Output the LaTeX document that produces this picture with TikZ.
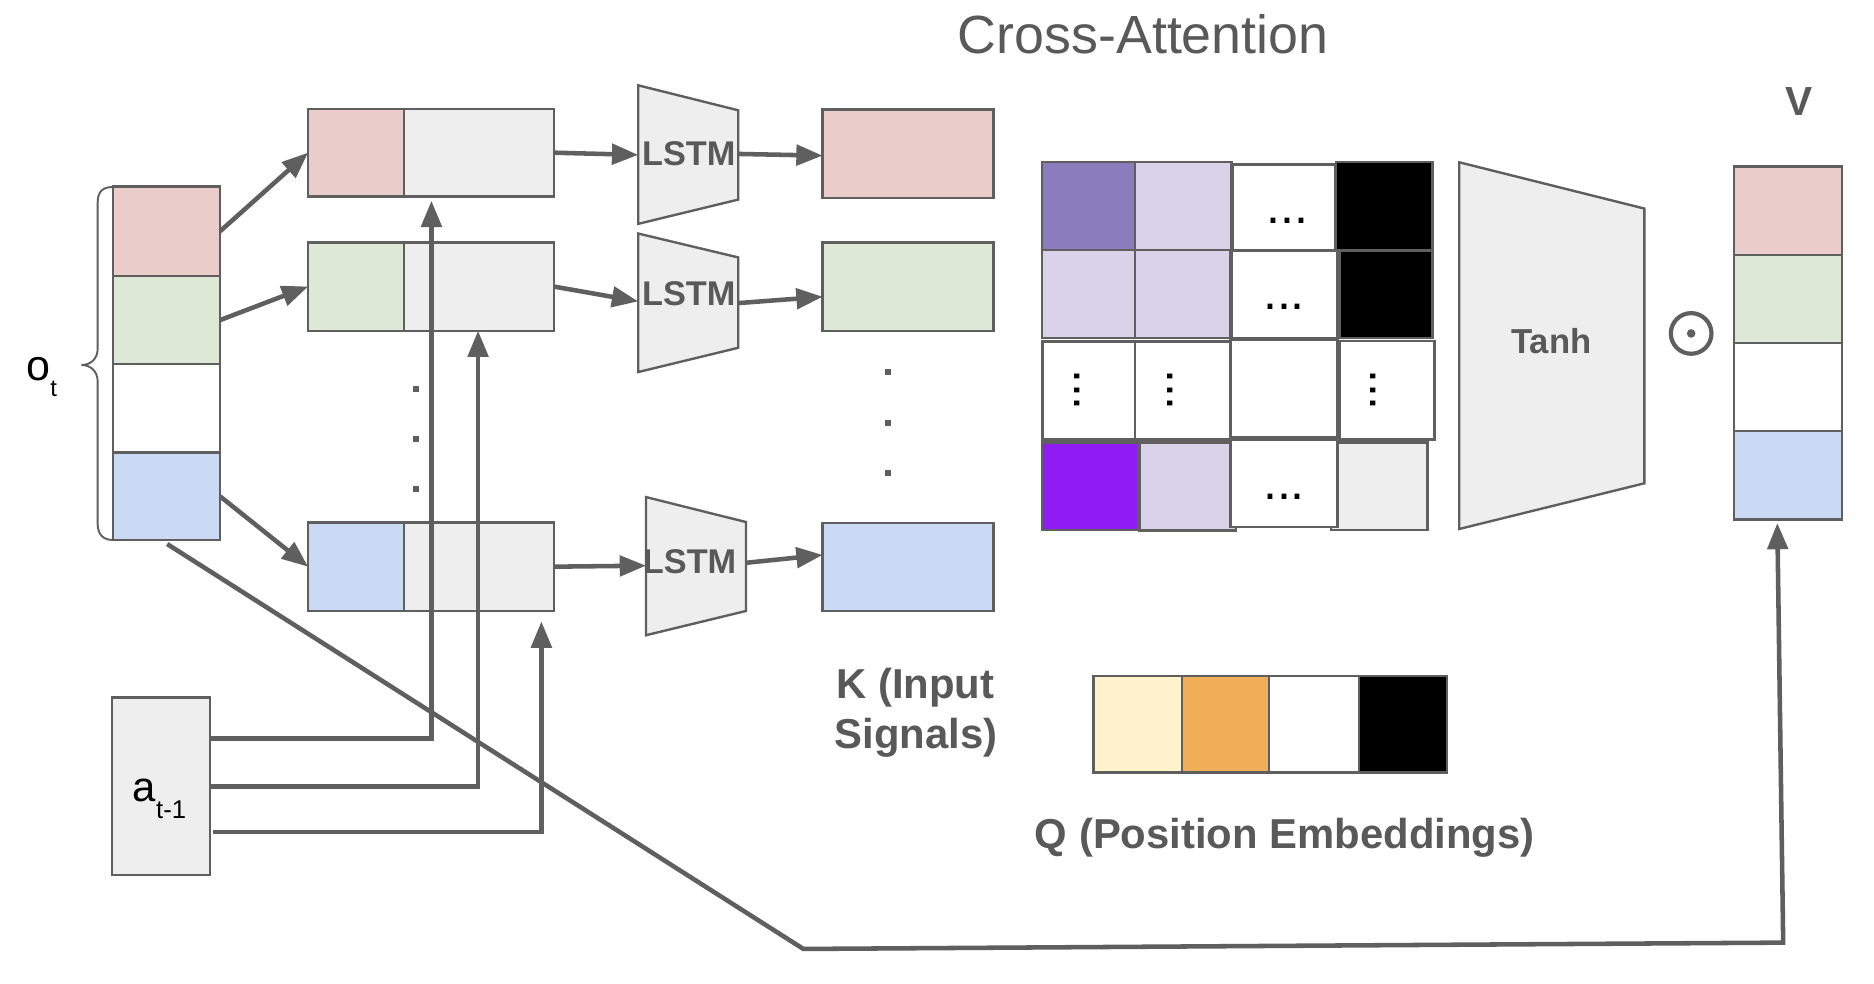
\documentclass[tikz,border=0pt]{standalone}
\usepackage{fontspec}
\setmainfont{Liberation Sans}
\usetikzlibrary{arrows.meta}
\definecolor{strokegray}{HTML}{5F5F5F}
\definecolor{txtgray}{HTML}{595959}
\definecolor{cpink}{HTML}{EACCCB}
\definecolor{cgreen}{HTML}{DDE9D6}
\definecolor{cblue}{HTML}{CBDAF4}
\definecolor{cgray}{HTML}{EEEEEE}
\definecolor{clav}{HTML}{D9D2E9}
\definecolor{cpurp}{HTML}{8B7DBD}
\definecolor{cviolet}{HTML}{8E1CF3}
\definecolor{ccream}{HTML}{FFF2CC}
\definecolor{corange}{HTML}{F1AE58}
\newcommand\bx[6]{\node[cell, fill=#6, minimum width={(#4)-(#2)}, minimum height={(#5)-(#3)}] (#1) at (#2,#3) {};}
\begin{document}
\begin{tikzpicture}[x=1pt,y=-1pt,
  cell/.style={draw=strokegray, line width=2pt, inner sep=0pt, outer sep=0pt, anchor=north west},
  conn/.style={draw=strokegray, line width=3.8pt, -{Triangle[length=22pt,width=17pt]}},
  trap/.style={draw=strokegray, line width=2pt, fill=cgray, line join=miter},
  lbl/.style={font=\bfseries\fontsize{#1}{#1}\selectfont, text=txtgray, inner sep=0pt},
  dotsq/.style={fill=strokegray, minimum size=5pt, inner sep=0pt, outer sep=0pt},
  mdots/.style={font=\fontsize{42}{42}\selectfont, text=black, inner sep=0pt}]
\useasboundingbox (0,0) rectangle (1568,823.3);
\fill[white] (0,0) rectangle (1568,823.3);

% title
\node[font=\fontsize{45}{50}\selectfont, text=txtgray, anchor=base, inner sep=0pt] (title) at (956.5,44.6) {Cross-Attention};

% o_t column
\bx{o1}{94.5}{156.2}{184.1}{230.9}{cpink}
\bx{o2}{94.5}{230.9}{184.1}{304.8}{cgreen}
\bx{o3}{94.5}{304.8}{184.1}{378.7}{white}
\bx{o4}{94.5}{378.7}{184.1}{451.8}{cblue}
\draw[strokegray, line width=1.6pt] (94.5,156.5) .. controls (86,156.5) and (81.7,160) .. (81.7,170)
  -- (81.7,292) .. controls (81.7,300) and (76,305.4) .. (68.2,305.4)
  .. controls (76,305.4) and (81.7,311) .. (81.7,319)
  -- (81.7,438) .. controls (81.7,447) and (86,451.8) .. (94.5,451.8);
\node[anchor=base west, inner sep=0pt, font=\fontsize{36}{36}\selectfont] (olab) at (22,318) {o\raisebox{-14pt}{\fontsize{20}{20}\selectfont t}};

% input boxes
\bx{in1a}{257.8}{91}{338.1}{164.5}{cpink}
\bx{in1b}{338.1}{91}{463.3}{164.5}{cgray}
\bx{in2a}{257.8}{202.8}{338.1}{276.7}{cgreen}
\bx{in2b}{338.1}{202.8}{463.3}{276.7}{cgray}
\bx{in3a}{257.8}{437.3}{338.1}{511}{cblue}
\bx{in3b}{338.1}{437.3}{463.3}{511}{cgray}
\node[dotsq] (d1) at (348,325.5) {};
\node[dotsq] (d2) at (348,367) {};
\node[dotsq] (d3) at (348,409.5) {};

% arrows o -> inputs
\draw[conn] (o1.east) -- (in1a.west);
\draw[conn] (o2.east) -- (in2a.west);
\draw[conn] (o4.east) -- (in3a.west);

% a_{t-1}
\bx{abox}{93.7}{583.7}{175.5}{732}{cgray}
\node[anchor=base west, inner sep=0pt, font=\fontsize{35}{35}\selectfont] (alab) at (111,670.5) {a\raisebox{-14pt}{\fontsize{21.5}{21.5}\selectfont t-1}};
\coordinate (a1s) at (175.5,617.8);
\coordinate (a2s) at (175.5,658);
\coordinate (a3s) at (178,696);
\coordinate (a1t) at (361,168);
\coordinate (a2t) at (400,276.7);
\coordinate (a3t) at (453,520);
\draw[conn] (a1s) -| (a1t);
\draw[conn] (a2s) -| (a2t);
\draw[conn] (a3s) -| (a3t);

% LSTMs
\coordinate (l1w) at (534,129.6);
\coordinate (l1e) at (617.7,128.8);
\coordinate (l2w) at (534,252.2);
\coordinate (l2e) at (617.7,253.6);
\coordinate (l3w) at (540.5,473.3);
\coordinate (l3e) at (624.2,470.9);
\draw[trap] (534,71.4) -- (617.7,92.3) -- (617.7,167) -- (534,187.3) -- cycle;
\draw[trap] (534,195.4) -- (617.7,215.4) -- (617.7,291) -- (534,311.3) -- cycle;
\draw[trap] (540.5,415.9) -- (624.2,436.8) -- (624.2,511.2) -- (540.5,531.5) -- cycle;

% output boxes
\bx{out1}{688.3}{91.7}{831.1}{165.5}{cpink}
\bx{out2}{688.3}{202.9}{831.1}{276.7}{cgreen}
\bx{out3}{688.3}{437.4}{831.1}{511.2}{cblue}
\coordinate (o1in) at (688.3,130.2);
\coordinate (o2in) at (688.3,248.3);
\coordinate (o3in) at (688.3,464.3);
\node[dotsq] (d4) at (743,311) {};
\node[dotsq] (d5) at (743,353.6) {};
\node[dotsq] (d6) at (743,395.4) {};

\draw[conn] (in1b.east) -- (l1w);
\draw[conn] (in2b.east) -- (l2w);
\draw[conn] (in3b.east) -- (l3w);
\draw[conn] (l1e) -- (o1in);
\draw[conn] (l2e) -- (o2in);
\draw[conn] (l3e) -- (o3in);
\node[lbl=28.7] (lstm1) at (576.3,128.8) {LSTM};
\node[lbl=28.7] (lstm2) at (576.3,245.6) {LSTM};
\node[lbl=28.7] (lstm3) at (577,470.3) {LSTM};

% attention matrix
\bx{m11}{871.6}{135.3}{949.7}{209.2}{cpurp}
\bx{m12}{949.7}{135.3}{1030.5}{209.2}{clav}
\bx{m13}{1031.9}{137.5}{1117}{209.2}{white}
\bx{m14}{1117.8}{135.3}{1198.7}{209.2}{black}
\bx{m21}{871.6}{209.2}{949.7}{283}{clav}
\bx{m22}{949.7}{209.2}{1029.7}{283}{clav}
\bx{m23}{1030.5}{210}{1119.2}{283}{white}
\bx{m24}{1120.6}{210}{1198.7}{283}{black}
\bx{m31}{872.4}{285.9}{949.7}{367.6}{white}
\bx{m32}{949.7}{285.9}{1029.7}{367.6}{white}
\bx{m33}{1029.7}{284.5}{1119.2}{366}{white}
\bx{m34}{1120.6}{285.3}{1200.1}{367.6}{white}
\bx{m41}{871.6}{370.4}{952.4}{443.5}{cviolet}
\bx{m42}{953.3}{370.4}{1034.2}{444}{clav}
\bx{m44}{1113.4}{370.4}{1194.5}{443.5}{cgray}
\bx{m43}{1029.7}{368.2}{1119.2}{441.2}{white}
\node[mdots] (e13) at (1077.3,185) {...};
\node[mdots] (e23) at (1074.3,257) {...};
\node[mdots] (e43) at (1074.3,415.6) {...};
\node[mdots, rotate=-90] (e31) at (901,326.3) {...};
\node[mdots, rotate=-90] (e32) at (979,326.3) {...};
\node[mdots, rotate=-90] (e34) at (1148.8,326.3) {...};

% Tanh
\draw[trap] (1221,135.8) -- (1375.8,174.5) -- (1375.8,404.4) -- (1221,442.6) -- cycle;
\node[lbl=29] (tanh) at (1298,285.5) {Tanh};

% odot
\node[circle, draw=strokegray, line width=3.5pt, minimum size=34pt, inner sep=0pt] (odot) at (1415,279) {};
\fill[strokegray] (odot.center) circle (3.6);

% V column
\node[lbl=34, anchor=base] (vlab) at (1505,97) {V};
\bx{v1}{1451}{139.3}{1541}{213.15}{cpink}
\bx{v2}{1451}{213.15}{1541}{287}{cgreen}
\bx{v3}{1451}{287}{1541}{360.85}{white}
\bx{v4}{1451}{360.85}{1541}{434.7}{cblue}

% K label
\node[lbl=35, anchor=base] (k1) at (766,584.3) {K (Input};
\node[lbl=35, anchor=base] (k2) at (766.5,626) {Signals)};

% Q embedding
\bx{q1}{915}{565.6}{988.8}{646.5}{ccream}
\bx{q2}{988.8}{565.6}{1062}{646.5}{corange}
\bx{q3}{1062}{565.6}{1137}{646.5}{white}
\bx{q4}{1137}{565.6}{1210.5}{646.5}{black}
\node[lbl=35, anchor=base] (qlab) at (1075,709.8) {Q (Position Embeddings)};

% long connector
\coordinate (lls) at (139.9,455.2);
\coordinate (llc1) at (672.2,794);
\coordinate (llc2) at (1492,788.7);
\coordinate (lle) at (1487.1,437.6);
\draw[conn] (lls) -- (llc1) -- (llc2) -- (lle);
\end{tikzpicture}
\end{document}
